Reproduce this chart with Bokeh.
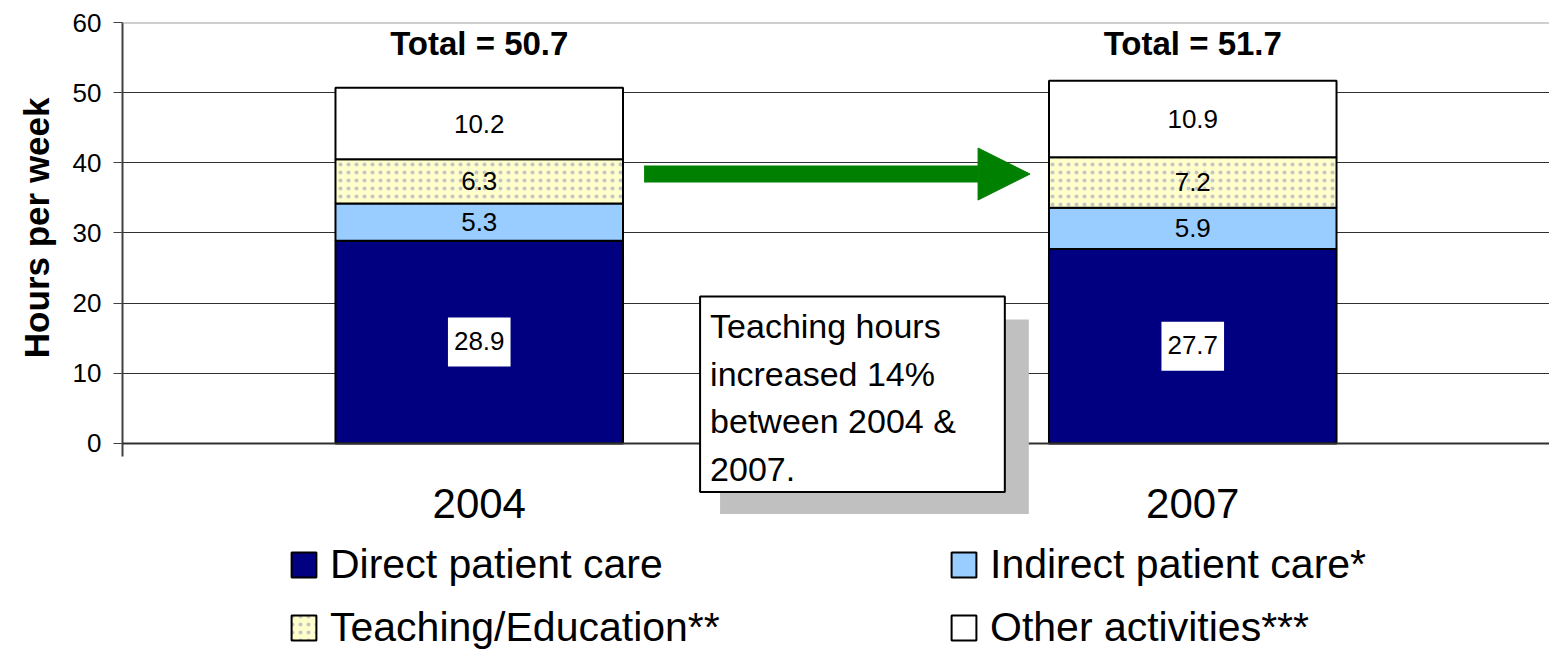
import numpy as np
from bokeh.plotting import figure
from bokeh.models import (Range1d, FactorRange, FixedTicker, Legend, LegendItem,
                          Label, Arrow, NormalHead, Span, Title)
from bokeh.core.properties import value
from bokeh.embed import file_html
from bokeh.resources import INLINE

# ---------------- data ----------------
years = ["2004", "2007"]
categories = ["Direct patient care", "Indirect patient care*",
              "Teaching/Education**", "Other activities***"]
direct = [28.9, 27.7]
indirect = [5.3, 5.9]
teaching = [6.3, 7.2]
other = [10.2, 10.9]
totals = [50.7, 51.7]
y_ticks = [0, 10, 20, 30, 40, 50, 60]
note_text = "Teaching hours\nincreased 14%\nbetween 2004 &\n2007."
y_axis_title = "Hours per week"

# ---------------- style / layout ----------------
FONT = "Liberation Sans"
fills = ["#000080", "#99CCFF", "#FFFFCC", "#FFFFFF"]
hatches = [None, None, "dot", None]
BAR_WIDTH = 0.403
TOTAL_LABEL_Y = 57.0
CATEGORY_LABEL_Y = -8.6
Y_MIN = -29.8
AXIS_BOTTOM = -1.855

p = figure(x_range=FactorRange(*years), y_range=Range1d(Y_MIN, 60),
           width=1549, height=652, output_backend="svg", toolbar_location=None,
           min_border_left=121, min_border_right=0, min_border_top=22,
           min_border_bottom=0)
p.outline_line_color = None
p.background_fill_color = "white"
p.border_fill_color = "white"

series = [direct, indirect, teaching, other]
bottoms = np.cumsum([[0.0, 0.0]] + series[:-1], axis=0)

renderers = []
for i, s in enumerate(series):
    kw = {}
    if hatches[i]:
        kw = dict(hatch_pattern=hatches[i], hatch_color="#C4C4C4",
                  hatch_scale=8, hatch_weight=1.2)
    r = p.vbar(x=years, bottom=bottoms[i], top=bottoms[i] + np.array(s),
               width=BAR_WIDTH, fill_color=fills[i], line_color="black",
               line_width=2, **kw)
    renderers.append(r)

# segment labels
for i in range(1, 4):
    s = np.array(series[i])
    p.text(x=years, y=bottoms[i] + s / 2, text=[f"{v:.1f}" for v in s],
           text_align="center", text_baseline="middle",
           text_font=value(FONT), text_font_size="26px", text_color="black")

p.text(x=years, y=np.array(direct) / 2, text=[f"{v:.1f}" for v in direct],
       text_align="center", text_baseline="middle",
       text_font=value(FONT), text_font_size="26px", text_color="black",
       background_fill_color="white",
       padding=dict(left=6, right=6, top=14, bottom=17))

p.text(x=years, y=[TOTAL_LABEL_Y] * 2, text=[f"Total = {t}" for t in totals],
       text_align="center", text_baseline="middle",
       text_font=value(FONT), text_font_size="33px", text_font_style="bold",
       text_color="black")

# category labels (x axis)
p.text(x=years, y=[CATEGORY_LABEL_Y] * 2, text=years,
       text_align="center", text_baseline="middle",
       text_font=value(FONT), text_font_size="42px", text_color="black")

# grid & spans
p.xgrid.grid_line_color = None
p.ygrid.ticker = FixedTicker(ticks=y_ticks)
p.ygrid.grid_line_color = "#303030"
p.ygrid.grid_line_width = 1
p.add_layout(Span(location=y_ticks[-1], dimension="width", line_color="#A0A0A0", line_width=2))
p.add_layout(Span(location=y_ticks[0], dimension="width", line_color="#303030", line_width=2))

# axes
p.xaxis.visible = False
p.yaxis.bounds = (AXIS_BOTTOM, 60)
p.yaxis.ticker = FixedTicker(ticks=y_ticks)
p.yaxis.major_label_text_font = FONT
p.yaxis.major_label_text_font_size = "26px"
p.yaxis.major_label_text_color = "black"
p.yaxis.major_tick_out = 9
p.yaxis.major_tick_in = 0
p.yaxis.minor_tick_line_color = None
p.yaxis.axis_line_color = "#404040"
p.yaxis.axis_line_width = 2
p.yaxis.major_tick_line_color = "#404040"
p.yaxis.major_label_standoff = 12

p.add_layout(Title(text=y_axis_title, align="right", offset=75,
                   text_font=FONT, text_font_size="35px",
                   text_font_style="bold", text_color="black", standoff=28),
             "left")

# arrow
GREEN = "#008000"
p.add_layout(Arrow(x_start=0.731, y_start=38.4, x_end=1.272, y_end=38.4,
                   line_color=GREEN, line_width=17,
                   end=NormalHead(size=52, fill_color=GREEN, line_color=GREEN)))

# note box with shadow
SHADOW = "#C0C0C0"
p.add_layout(Label(x=0.8375, y=17.67, text=note_text, text_font=FONT,
                   text_font_size="34px", text_line_height=1.25,
                   text_align="left", text_baseline="top",
                   text_color=SHADOW, background_fill_color=SHADOW,
                   padding=dict(left=10, right=53, top=11, bottom=3)))
p.add_layout(Label(x=0.8095, y=20.95, text=note_text, text_font=FONT,
                   text_font_size="34px", text_line_height=1.25,
                   text_align="left", text_baseline="top",
                   text_color="black", background_fill_color="white",
                   border_line_color="black", border_line_width=2,
                   padding=dict(left=10, right=49, top=11, bottom=4)))

# legends
leg_common = dict(orientation="vertical", label_text_font=FONT,
                  label_text_font_size="41px", label_text_color="black",
                  glyph_width=31, glyph_height=31, label_height=46,
                  label_standoff=11, spacing=16, padding=0, margin=0,
                  border_line_color=None, background_fill_alpha=0)
leg1 = Legend(items=[LegendItem(label=categories[0], renderers=[renderers[0]]),
                     LegendItem(label=categories[2], renderers=[renderers[2]])],
              location=(166, 1), **leg_common)
leg2 = Legend(items=[LegendItem(label=categories[1], renderers=[renderers[1]]),
                     LegendItem(label=categories[3], renderers=[renderers[3]])],
              location=(826, 1), **leg_common)
p.add_layout(leg1)
p.add_layout(leg2)

open("out.html", "w").write(file_html(p, INLINE))
